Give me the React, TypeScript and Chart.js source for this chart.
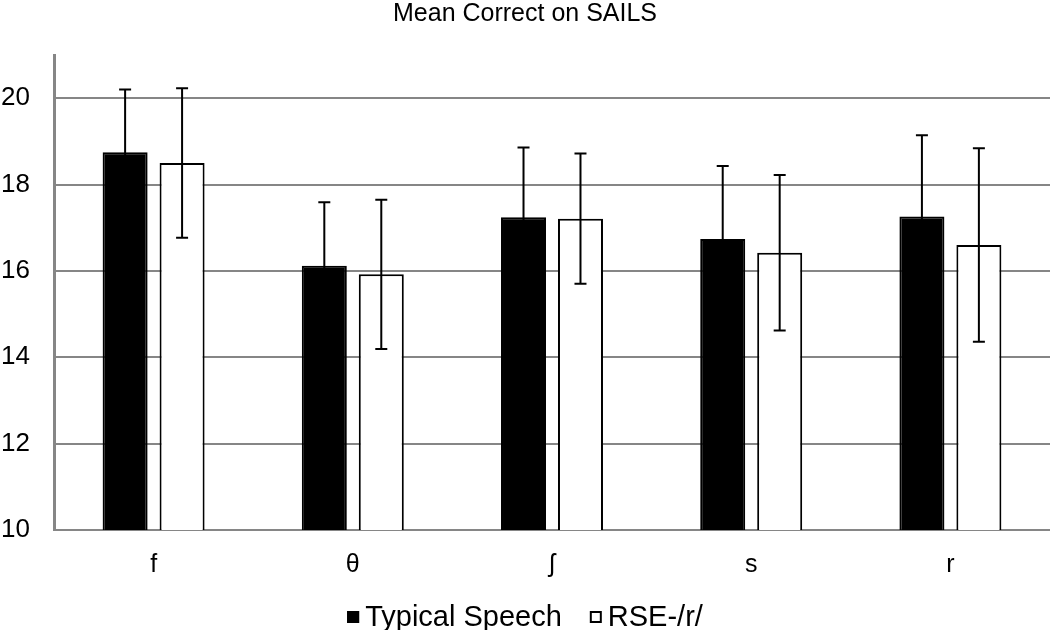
import React, { useEffect, useRef } from "react";
import { Chart, registerables } from "chart.js";

Chart.register(...registerables);

const categories = ["f", "θ", "ʃ", "s", "r"];
const typicalMeans = [18.75, 16.12, 17.24, 16.74, 17.26];
const typicalErrors = [1.45, 1.47, 1.62, 1.69, 1.88];
const rseMeans = [18.5, 15.92, 17.21, 16.42, 16.6];
const rseErrors = [1.73, 1.73, 1.51, 1.8, 2.24];
const yTicks = [10, 12, 14, 16, 18, 20];

const FONT = "'Liberation Sans', Arial, sans-serif";

const errorBarPlugin = {
  id: "errorBars",
  afterDatasetsDraw(chart: any) {
    const ctx = chart.ctx;
    const yScale = chart.scales.y;
    chart.data.datasets.forEach((ds: any, di: number) => {
      const meta = chart.getDatasetMeta(di);
      const errs: number[] = ds.errors || [];
      meta.data.forEach((el: any, i: number) => {
        const v = ds.data[i];
        const e = errs[i];
        const x = el.x;
        const yHi = yScale.getPixelForValue(v + e);
        const yLo = yScale.getPixelForValue(v - e);
        ctx.save();
        ctx.strokeStyle = "#000";
        ctx.lineWidth = 2;
        ctx.beginPath();
        ctx.moveTo(x, yLo);
        ctx.lineTo(x, yHi);
        ctx.moveTo(x - 6, yHi);
        ctx.lineTo(x + 6, yHi);
        ctx.moveTo(x - 6, yLo);
        ctx.lineTo(x + 6, yLo);
        ctx.stroke();
        ctx.restore();
      });
    });
  },
};

// Legend drawn below the x-axis labels, centred on the canvas
const LEGEND_FONT_SIZE = 29;
const LEGEND_BOX = 12;
const LEGEND_GAP = 6;
const LEGEND_SPACING = 28;
const LEGEND_CENTER_Y = 617;

const legendPlugin = {
  id: "customLegend",
  afterDraw(chart: any) {
    const ctx = chart.ctx;
    ctx.save();
    ctx.font = `${LEGEND_FONT_SIZE}px ${FONT}`;
    ctx.textBaseline = "middle";
    const items = chart.data.datasets.map((ds: any) => ({
      label: ds.label as string,
      fill: ds.backgroundColor as string,
      stroke: ds.borderColor as string,
      w: ctx.measureText(ds.label).width,
    }));
    const total =
      items.reduce((s: number, it: any) => s + LEGEND_BOX + LEGEND_GAP + it.w, 0) +
      LEGEND_SPACING * (items.length - 1);
    let x = chart.width / 2 - total / 2;
    const y = LEGEND_CENTER_Y;
    items.forEach((it: any) => {
      ctx.fillStyle = it.fill;
      ctx.fillRect(x, y - LEGEND_BOX / 2, LEGEND_BOX, LEGEND_BOX);
      ctx.strokeStyle = it.stroke;
      ctx.lineWidth = 2;
      ctx.strokeRect(x + 1, y - LEGEND_BOX / 2 + 1, LEGEND_BOX - 2, LEGEND_BOX - 2);
      ctx.fillStyle = "#000";
      ctx.textAlign = "left";
      ctx.fillText(it.label, x + LEGEND_BOX + LEGEND_GAP, y + 1);
      x += LEGEND_BOX + LEGEND_GAP + it.w + LEGEND_SPACING;
    });
    ctx.restore();
  },
};

export default function App() {
  const ref = useRef<HTMLCanvasElement | null>(null);
  useEffect(() => {
    document.body.style.margin = "0";
    if (!ref.current) return;
    const chart = new Chart(ref.current, {
      type: "bar",
      data: {
        labels: categories,
        datasets: [
          {
            label: "Typical Speech",
            data: typicalMeans,
            errors: typicalErrors,
            backgroundColor: "#000000",
            borderColor: "#000000",
            borderWidth: 2,
            categoryPercentage: 0.572,
            barPercentage: 0.79,
          } as any,
          {
            label: "RSE-/r/",
            data: rseMeans,
            errors: rseErrors,
            backgroundColor: "#ffffff",
            borderColor: "#000000",
            borderWidth: 2,
            categoryPercentage: 0.572,
            barPercentage: 0.79,
          } as any,
        ],
      },
      options: {
        responsive: false,
        animation: false,
        layout: { padding: { left: 0, right: 0, top: 0, bottom: 50 } },
        plugins: {
          title: {
            display: true,
            text: "Mean Correct on SAILS",
            color: "#000",
            font: { family: FONT, size: 25, weight: "normal", lineHeight: 0.9 },
            padding: { top: 3, bottom: 29.5 },
          },
          legend: { display: false },
          tooltip: { enabled: false },
        },
        scales: {
          x: {
            afterFit(scale: any) {
              scale.height = 50;
            },
            grid: { display: false, drawTicks: false },
            border: { display: true, color: "#868686", width: 2 },
            ticks: {
              color: "#000",
              font: { family: FONT, size: 25, lineHeight: 1.2 },
              padding: 20,
            },
          },
          y: {
            min: 10,
            max: 21,
            afterFit(scale: any) {
              scale.width = 54;
            },
            afterBuildTicks(scale: any) {
              scale.ticks = yTicks.map((v) => ({ value: v }));
            },
            grid: { color: "#868686", lineWidth: 2, drawTicks: false },
            border: { display: true, color: "#868686", width: 3 },
            ticks: {
              color: "#000",
              font: { family: FONT, size: 26 },
              padding: 24,
              includeBounds: false,
            },
          },
        },
      } as any,
      plugins: [errorBarPlugin, legendPlugin],
    });
    return () => chart.destroy();
  }, []);
  return (
    <div style={{ width: 1050, height: 630 }}>
      <canvas ref={ref} width={1050} height={630} />
    </div>
  );
}
